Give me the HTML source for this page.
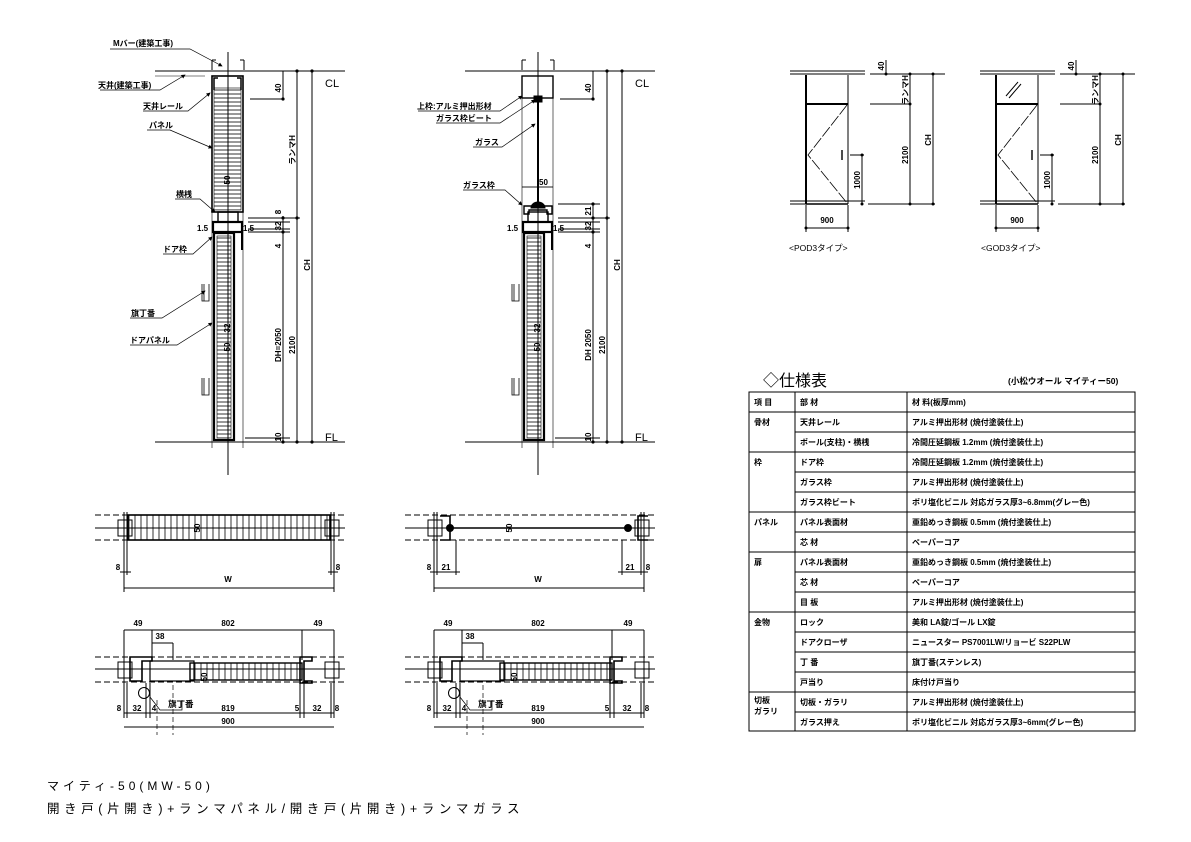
<!DOCTYPE html>
<html><head><meta charset="utf-8"><style>
html,body{margin:0;padding:0;background:#fff}
svg{display:block}
text{font-family:"Liberation Sans","Noto Sans CJK JP",sans-serif;fill:#000}
.b text{font-weight:bold}
</style></head><body>
<svg width="1191" height="842" viewBox="0 0 1191 842" xmlns="http://www.w3.org/2000/svg">
<defs>
<pattern id="hh" width="6" height="4" patternUnits="userSpaceOnUse"><line x1="0" y1="2" x2="6" y2="2" stroke="#000" stroke-width="0.8"/></pattern>
<pattern id="vh" width="6" height="6" patternUnits="userSpaceOnUse"><line x1="3" y1="0" x2="3" y2="6" stroke="#000" stroke-width="0.8"/></pattern>
<marker id="ar" markerWidth="6" markerHeight="6" refX="5" refY="3" orient="auto"><path d="M0,0 L6,3 L0,6z" fill="#000"/></marker>
</defs>
<g stroke="#000" fill="none" stroke-width="1">

<g id="secA">
<line x1="155" y1="71" x2="345" y2="71"/>
<line x1="155" y1="76" x2="205" y2="76" stroke-width="0.6"/>
<line x1="155" y1="442" x2="345" y2="442"/>
<line x1="228" y1="52" x2="228" y2="475"/>
<path d="M212,70 V60 M212,60 h4 M244,70 V60 M244,60 h-4" />
<rect x="212" y="76" width="31" height="136" stroke-width="1.6"/>
<rect x="214" y="88" width="27" height="122" fill="url(#hh)" stroke-width="0.6"/>
<path d="M214,90 v-12 h4 M241,90 v-12 h-4" stroke-width="1.5"/>
<rect x="218" y="212" width="20" height="10" stroke-width="1.4"/>
<rect x="213" y="222" width="29" height="10" stroke-width="2.2"/>
<rect x="214" y="233" width="20" height="207" stroke-width="2.2"/>
<rect x="217" y="236" width="14" height="202" fill="url(#hh)" stroke-width="0.6"/>
<line x1="242" y1="232" x2="242" y2="250" stroke-width="2"/>
<line x1="243" y1="212" x2="243" y2="448" stroke-width="0.6"/>
<line x1="212" y1="212" x2="212" y2="448" stroke-width="0.6"/>
<path d="M202,284 v17 h7 v-17 M204,284 v17" stroke-width="0.8"/>
<path d="M202,378 v17 h7 v-17 M204,378 v17" stroke-width="0.8"/>
<line x1="250" y1="99" x2="283" y2="99"/>
<line x1="283" y1="71" x2="283" y2="99"/>
<line x1="283" y1="216" x2="283" y2="442"/>
<line x1="248" y1="218" x2="300" y2="218"/>
<line x1="248" y1="222" x2="290" y2="222"/>
<line x1="248" y1="229" x2="290" y2="229"/>
<line x1="248" y1="232" x2="290" y2="232"/>
<line x1="297" y1="71" x2="297" y2="442"/>
<line x1="312" y1="71" x2="312" y2="442"/>
<line x1="245" y1="438" x2="290" y2="438"/>
<g fill="#000" stroke="none">
<circle cx="283" cy="99" r="1.6"/><circle cx="283" cy="218" r="1.6"/><circle cx="283" cy="232" r="1.6"/><circle cx="283" cy="442" r="1.6"/>
<circle cx="297" cy="71" r="1.6"/><circle cx="297" cy="218" r="1.6"/><circle cx="297" cy="442" r="1.6"/>
<circle cx="312" cy="71" r="1.6"/><circle cx="312" cy="442" r="1.6"/>
</g>
</g>
<g transform="translate(310,0)">
<line x1="155" y1="71" x2="345" y2="71"/>
<line x1="155" y1="442" x2="345" y2="442"/>
<line x1="228" y1="52" x2="228" y2="475"/>
<path d="M212,70 V60 M212,60 h4 M244,70 V60 M244,60 h-4"/>
<rect x="212" y="76" width="31" height="22" stroke-width="1.4"/>
<rect x="224" y="96" width="8" height="6" fill="#000"/>
<line x1="228" y1="100" x2="228" y2="205" stroke-width="2"/>
<line x1="212" y1="98" x2="212" y2="205" stroke-width="0.6"/>
<line x1="243" y1="98" x2="243" y2="205" stroke-width="0.6"/>
<path d="M221,208 a7,6 0 0 1 14,0 z" fill="#000"/>
<path d="M214,206 h28 v8 h-5 v-4 h-18 v4 h-5 z" stroke-width="1.4"/>
<rect x="218" y="212" width="20" height="10" stroke-width="1.4"/>
<rect x="213" y="222" width="29" height="10" stroke-width="2.2"/>
<rect x="214" y="233" width="20" height="207" stroke-width="2.2"/>
<rect x="217" y="236" width="14" height="202" fill="url(#hh)" stroke-width="0.6"/>
<line x1="242" y1="232" x2="242" y2="250" stroke-width="2"/>
<line x1="243" y1="205" x2="243" y2="448" stroke-width="0.6"/>
<line x1="212" y1="205" x2="212" y2="448" stroke-width="0.6"/>
<path d="M202,284 v17 h7 v-17 M204,284 v17" stroke-width="0.8"/>
<path d="M202,378 v17 h7 v-17 M204,378 v17" stroke-width="0.8"/>
<line x1="212" y1="187" x2="243" y2="187" stroke-width="0.6"/>
<line x1="250" y1="99" x2="283" y2="99"/>
<line x1="283" y1="71" x2="283" y2="99"/>
<line x1="283" y1="204" x2="283" y2="442"/>
<line x1="248" y1="204" x2="290" y2="204"/>
<line x1="248" y1="218" x2="300" y2="218"/>
<line x1="248" y1="222" x2="290" y2="222"/>
<line x1="248" y1="229" x2="290" y2="229"/>
<line x1="248" y1="232" x2="290" y2="232"/>
<line x1="297" y1="71" x2="297" y2="442"/>
<line x1="312" y1="71" x2="312" y2="442"/>
<line x1="245" y1="438" x2="290" y2="438"/>
<g fill="#000" stroke="none">
<circle cx="283" cy="99" r="1.6"/><circle cx="283" cy="204" r="1.6"/><circle cx="283" cy="218" r="1.6"/><circle cx="283" cy="232" r="1.6"/><circle cx="283" cy="442" r="1.6"/>
<circle cx="297" cy="71" r="1.6"/><circle cx="297" cy="218" r="1.6"/><circle cx="297" cy="442" r="1.6"/>
<circle cx="312" cy="71" r="1.6"/><circle cx="312" cy="442" r="1.6"/>
</g>
</g>

<g stroke-width="0.7">
<path d="M110,49 H190 L222,66" marker-end="url(#ar)"/>
<path d="M100,90 H160 L185,75" marker-end="url(#ar)"/>
<path d="M143,111 H188 L210,93" marker-end="url(#ar)"/>
<path d="M147,130 H170 L212,148" marker-end="url(#ar)"/>
<path d="M175,199 H200 L215,212" marker-end="url(#ar)"/>
<path d="M163,254 H193 L212,237" marker-end="url(#ar)"/>
<path d="M130,318 H162 L205,291" marker-end="url(#ar)"/>
<path d="M130,345 H177 L212,323" marker-end="url(#ar)"/>
<path d="M418,111 H500 L522,96" marker-end="url(#ar)"/>
<path d="M436,123 H500 L535,100" marker-end="url(#ar)"/>
<path d="M473,147 H502 L535,124" marker-end="url(#ar)"/>
<path d="M463,190 H505 L522,205" marker-end="url(#ar)"/>
<line x1="522" y1="187" x2="553" y2="187"/>
</g>

<g>
<line x1="95" y1="515" x2="345" y2="515" stroke-dasharray="6,3"/>
<line x1="95" y1="540" x2="345" y2="540" stroke-dasharray="6,3"/>
<line x1="95" y1="528" x2="345" y2="528"/>
<rect x="118" y="520" width="14" height="16"/>
<rect x="325" y="520" width="14" height="16"/>
<rect x="128" y="515" width="202" height="25" stroke-width="1.6" fill="url(#vh)"/>
<line x1="124" y1="512" x2="124" y2="592"/><line x1="127" y1="512" x2="127" y2="575"/>
<line x1="331" y1="512" x2="331" y2="575"/><line x1="334" y1="512" x2="334" y2="592"/>
<line x1="124" y1="588" x2="334" y2="588"/>
<line x1="120" y1="572" x2="131" y2="572"/><line x1="328" y1="572" x2="338" y2="572"/>
</g>
<g>
<line x1="405" y1="515" x2="655" y2="515" stroke-dasharray="6,3"/>
<line x1="405" y1="540" x2="655" y2="540" stroke-dasharray="6,3"/>
<line x1="405" y1="528" x2="655" y2="528"/>
<rect x="428" y="520" width="14" height="16"/>
<rect x="635" y="520" width="14" height="16"/>
<path d="M440,516 h10 v24 h-10 M648,516 h-10 v24 h10" stroke-width="1.6"/>
<circle cx="450" cy="528" r="3.5" fill="#000"/><circle cx="628" cy="528" r="3.5" fill="#000"/>
<line x1="450" y1="528" x2="628" y2="528" stroke-width="1.4"/>
<line x1="434" y1="512" x2="434" y2="592"/><line x1="437" y1="512" x2="437" y2="575"/>
<line x1="456" y1="540" x2="456" y2="575"/><line x1="622" y1="540" x2="622" y2="575"/>
<line x1="641" y1="512" x2="641" y2="575"/><line x1="644" y1="512" x2="644" y2="592"/>
<line x1="434" y1="588" x2="644" y2="588"/>
<line x1="430" y1="572" x2="460" y2="572"/><line x1="618" y1="572" x2="648" y2="572"/>
</g>

<g id="pb">
<line x1="95" y1="657" x2="345" y2="657" stroke-dasharray="6,3"/>
<line x1="95" y1="682" x2="345" y2="682" stroke-dasharray="6,3"/>
<line x1="95" y1="669" x2="345" y2="669"/>
<rect x="118" y="662" width="14" height="16"/>
<rect x="325" y="662" width="14" height="16"/>
<path d="M130,657 h22 v4 h-10 v20 h-12 z" stroke-width="1.6"/>
<path d="M300,657 h12 v4 h-8 v20 h8 v2 h-12 z" stroke-width="1.6"/>
<rect x="150" y="661" width="44" height="20" stroke-width="1.2"/>
<rect x="190" y="663" width="112" height="17" stroke-width="1.4" fill="url(#vh)"/>
<line x1="124" y1="630" x2="124" y2="718"/><line x1="152" y1="630" x2="152" y2="660"/>
<line x1="302" y1="630" x2="302" y2="660"/><line x1="334" y1="630" x2="334" y2="718"/>
<line x1="124" y1="630" x2="334" y2="630"/>
<line x1="152" y1="643" x2="173" y2="643"/><line x1="173" y1="643" x2="173" y2="660"/>
<line x1="146" y1="683" x2="146" y2="718"/><line x1="150" y1="683" x2="150" y2="718"/>
<line x1="300" y1="683" x2="300" y2="718"/><line x1="304" y1="683" x2="304" y2="718"/>
<line x1="127" y1="683" x2="127" y2="718"/><line x1="331" y1="683" x2="331" y2="718"/>
<line x1="124" y1="713" x2="334" y2="713"/>
<line x1="124" y1="727" x2="334" y2="727"/>
<circle cx="144" cy="693" r="5.5"/>
<path d="M150,697 L160,710 H182 V700" stroke-width="0.7"/>
<line x1="157" y1="700" x2="157" y2="735" stroke-dasharray="5,3" stroke-width="0.7"/>
<line x1="173" y1="685" x2="173" y2="735" stroke-dasharray="5,3" stroke-width="0.7"/>
</g>
<use href="#pb" transform="translate(310,0)"/>

<g id="el">
<line x1="790" y1="71" x2="865" y2="71"/><line x1="790" y1="74" x2="865" y2="74"/>
<line x1="790" y1="201" x2="865" y2="201"/><line x1="790" y1="204" x2="806" y2="204"/>
<line x1="870" y1="74" x2="945" y2="74"/>
<line x1="806" y1="75" x2="806" y2="204" stroke-width="2"/>
<line x1="848" y1="75" x2="848" y2="204"/>
<line x1="806" y1="104" x2="848" y2="104" stroke-width="2"/>
<line x1="806" y1="204" x2="848" y2="204" stroke-width="1.6"/>
<path d="M847,105 L808,155 L847,203" stroke-width="0.8" stroke-dasharray="12,2"/>
<line x1="842" y1="150" x2="842" y2="160" stroke-width="1.4"/>
<line x1="870" y1="104" x2="910" y2="104"/>
<line x1="850" y1="155" x2="864" y2="155"/>
<line x1="862" y1="155" x2="862" y2="204"/>
<line x1="868" y1="204" x2="935" y2="204"/>
<line x1="886" y1="60" x2="886" y2="74"/>
<line x1="910" y1="74" x2="910" y2="204"/>
<line x1="933" y1="74" x2="933" y2="204"/>
<line x1="806" y1="205" x2="806" y2="232"/><line x1="848" y1="205" x2="848" y2="232"/>
<line x1="806" y1="228" x2="848" y2="228"/>
<g fill="#000" stroke="none"><circle cx="886" cy="74" r="1.5"/><circle cx="910" cy="74" r="1.5"/><circle cx="933" cy="74" r="1.5"/><circle cx="910" cy="104" r="1.5"/><circle cx="910" cy="204" r="1.5"/><circle cx="933" cy="204" r="1.5"/><circle cx="862" cy="155" r="1.5"/><circle cx="862" cy="204" r="1.5"/><circle cx="806" cy="228" r="1.5"/><circle cx="848" cy="228" r="1.5"/></g>
</g>
<use href="#el" transform="translate(190,0)"/>
<path d="M1006,96 l12,-14 M1009,98 l12,-14" stroke-width="1"/>

<rect x="749" y="392" width="386" height="339"/>
<line x1="795" y1="392" x2="795" y2="731"/>
<line x1="907" y1="392" x2="907" y2="731"/>
<g stroke-width="0.9">
<line x1="749" y1="412" x2="1135" y2="412"/>
<line x1="795" y1="432" x2="1135" y2="432"/>
<line x1="749" y1="452" x2="1135" y2="452"/>
<line x1="795" y1="472" x2="1135" y2="472"/>
<line x1="795" y1="492" x2="1135" y2="492"/>
<line x1="749" y1="512" x2="1135" y2="512"/>
<line x1="795" y1="532" x2="1135" y2="532"/>
<line x1="749" y1="552" x2="1135" y2="552"/>
<line x1="795" y1="572" x2="1135" y2="572"/>
<line x1="795" y1="592" x2="1135" y2="592"/>
<line x1="749" y1="612" x2="1135" y2="612"/>
<line x1="795" y1="632" x2="1135" y2="632"/>
<line x1="795" y1="652" x2="1135" y2="652"/>
<line x1="795" y1="672" x2="1135" y2="672"/>
<line x1="749" y1="692" x2="1135" y2="692"/>
<line x1="795" y1="712" x2="1135" y2="712"/>
</g>
</g>

<g font-size="8" class="b">
<text x="113" y="46">Mバー(建築工事)</text>
<text x="98" y="88">天井(建築工事)</text>
<text x="143" y="109">天井レール</text>
<text x="149" y="128">パネル</text>
<text x="176" y="197">横桟</text>
<text x="163" y="252">ドア枠</text>
<text x="131" y="316">旗丁番</text>
<text x="130" y="343">ドアパネル</text>
<text x="197" y="231">1.5</text><text x="243" y="231">1.5</text>
<text x="507" y="231">1.5</text><text x="553" y="231">1.5</text>
<text x="417" y="109">上枠:アルミ押出形材</text>
<text x="436" y="121">ガラス枠ビート</text>
<text x="475" y="145">ガラス</text>
<text x="463" y="188">ガラス枠</text>
<text x="539" y="185">50</text>
</g>
<g font-size="11">
<text x="325" y="87">CL</text><text x="325" y="441">FL</text>
<text x="635" y="87">CL</text><text x="635" y="441">FL</text>
</g>
<g font-size="8" text-anchor="middle" class="b">
<text transform="translate(281,88) rotate(-90)">40</text>
<text transform="translate(281,212) rotate(-90)">8</text>
<text transform="translate(281,226) rotate(-90)">32</text>
<text transform="translate(281,246) rotate(-90)">4</text>
<text transform="translate(281,345) rotate(-90)">DH=2050</text>
<text transform="translate(281,437) rotate(-90)">10</text>
<text transform="translate(295,345) rotate(-90)">2100</text>
<text transform="translate(295,150) rotate(-90)">ランマH</text>
<text transform="translate(310,265) rotate(-90)">CH</text>
<text transform="translate(230,180) rotate(-90)">50</text>
<text transform="translate(230,328) rotate(-90)">32</text>
<text transform="translate(230,347) rotate(-90)">50</text>
<text transform="translate(591,88) rotate(-90)">40</text>
<text transform="translate(591,211) rotate(-90)">21</text>
<text transform="translate(591,226) rotate(-90)">32</text>
<text transform="translate(591,246) rotate(-90)">4</text>
<text transform="translate(591,345) rotate(-90)">DH 2050</text>
<text transform="translate(591,437) rotate(-90)">10</text>
<text transform="translate(605,345) rotate(-90)">2100</text>
<text transform="translate(620,265) rotate(-90)">CH</text>
<text transform="translate(540,328) rotate(-90)">32</text>
<text transform="translate(540,347) rotate(-90)">50</text>
<text transform="translate(200,528) rotate(-90)">50</text>
<text transform="translate(512,528) rotate(-90)">50</text>
<text x="118" y="570">8</text><text x="338" y="570">8</text>
<text x="228" y="582">W</text><text x="538" y="582">W</text>
<text x="429" y="570">8</text><text x="446" y="570">21</text><text x="630" y="570">21</text><text x="648" y="570">8</text>
<text x="138" y="626">49</text><text x="228" y="626">802</text><text x="318" y="626">49</text>
<text x="160" y="639">38</text>
<text x="119" y="711">8</text><text x="137" y="711">32</text><text x="154" y="711">4</text>
<text x="228" y="711">819</text><text x="297" y="711">5</text><text x="317" y="711">32</text><text x="337" y="711">8</text>
<text x="228" y="724">900</text>
<text x="448" y="626">49</text><text x="538" y="626">802</text><text x="628" y="626">49</text>
<text x="470" y="639">38</text>
<text x="429" y="711">8</text><text x="447" y="711">32</text><text x="464" y="711">4</text>
<text x="538" y="711">819</text><text x="607" y="711">5</text><text x="627" y="711">32</text><text x="647" y="711">8</text>
<text x="538" y="724">900</text>
<text transform="translate(207,677) rotate(-90)">50</text>
<text transform="translate(517,677) rotate(-90)">50</text>
<text transform="translate(884,66) rotate(-90)">40</text>
<text transform="translate(908,90) rotate(-90)">ランマH</text>
<text transform="translate(908,155) rotate(-90)">2100</text>
<text transform="translate(931,140) rotate(-90)">CH</text>
<text transform="translate(860,180) rotate(-90)">1000</text>
<text x="827" y="223">900</text>
<text transform="translate(1074,66) rotate(-90)">40</text>
<text transform="translate(1098,90) rotate(-90)">ランマH</text>
<text transform="translate(1098,155) rotate(-90)">2100</text>
<text transform="translate(1121,140) rotate(-90)">CH</text>
<text transform="translate(1050,180) rotate(-90)">1000</text>
<text x="1017" y="223">900</text>
</g>
<g font-size="8.5">
<text x="168" y="707" font-weight="bold">旗丁番</text><text x="478" y="707" font-weight="bold">旗丁番</text>
<text x="789" y="251">&lt;POD3タイプ&gt;</text>
<text x="981" y="251">&lt;GOD3タイプ&gt;</text>
</g>
<text x="763" y="386" font-size="16">◇仕様表</text>
<text x="1008" y="384" font-size="8.5" font-weight="bold">(小松ウオール マイティー50)</text>
<g font-size="8" class="b">
<text x="754" y="405">項 目</text><text x="800" y="405">部 材</text><text x="912" y="405">材 料(板厚mm)</text>
<text x="754" y="425">骨材</text><text x="800" y="425">天井レール</text><text x="912" y="425">アルミ押出形材 (焼付塗装仕上)</text>
<text x="800" y="445">ポール(支柱)・横桟</text><text x="912" y="445">冷間圧延鋼板 1.2mm (焼付塗装仕上)</text>
<text x="754" y="465">枠</text><text x="800" y="465">ドア枠</text><text x="912" y="465">冷間圧延鋼板 1.2mm (焼付塗装仕上)</text>
<text x="800" y="485">ガラス枠</text><text x="912" y="485">アルミ押出形材 (焼付塗装仕上)</text>
<text x="800" y="505">ガラス枠ビート</text><text x="912" y="505">ポリ塩化ビニル 対応ガラス厚3~6.8mm(グレー色)</text>
<text x="754" y="525">パネル</text><text x="800" y="525">パネル表面材</text><text x="912" y="525">亜鉛めっき鋼板 0.5mm (焼付塗装仕上)</text>
<text x="800" y="545">芯 材</text><text x="912" y="545">ペーパーコア</text>
<text x="754" y="565">扉</text><text x="800" y="565">パネル表面材</text><text x="912" y="565">亜鉛めっき鋼板 0.5mm (焼付塗装仕上)</text>
<text x="800" y="585">芯 材</text><text x="912" y="585">ペーパーコア</text>
<text x="800" y="605">目 板</text><text x="912" y="605">アルミ押出形材 (焼付塗装仕上)</text>
<text x="754" y="625">金物</text><text x="800" y="625">ロック</text><text x="912" y="625">美和 LA錠/ゴール LX錠</text>
<text x="800" y="645">ドアクローザ</text><text x="912" y="645">ニュースター PS7001LW/リョービ S22PLW</text>
<text x="800" y="665">丁 番</text><text x="912" y="665">旗丁番(ステンレス)</text>
<text x="800" y="685">戸当り</text><text x="912" y="685">床付け戸当り</text>
<text x="754" y="703">切板</text><text x="754" y="714">ガラリ</text><text x="800" y="705">切板・ガラリ</text><text x="912" y="705">アルミ押出形材 (焼付塗装仕上)</text>
<text x="800" y="725">ガラス押え</text><text x="912" y="725">ポリ塩化ビニル 対応ガラス厚3~6mm(グレー色)</text>
</g>
<text x="47" y="790" font-size="12" letter-spacing="4">マイティ-50(MW-50)</text>
<text x="47" y="813" font-size="12.5" letter-spacing="4.6">開き戸(片開き)+ランマパネル/開き戸(片開き)+ランマガラス</text>
</svg>
</body></html>
